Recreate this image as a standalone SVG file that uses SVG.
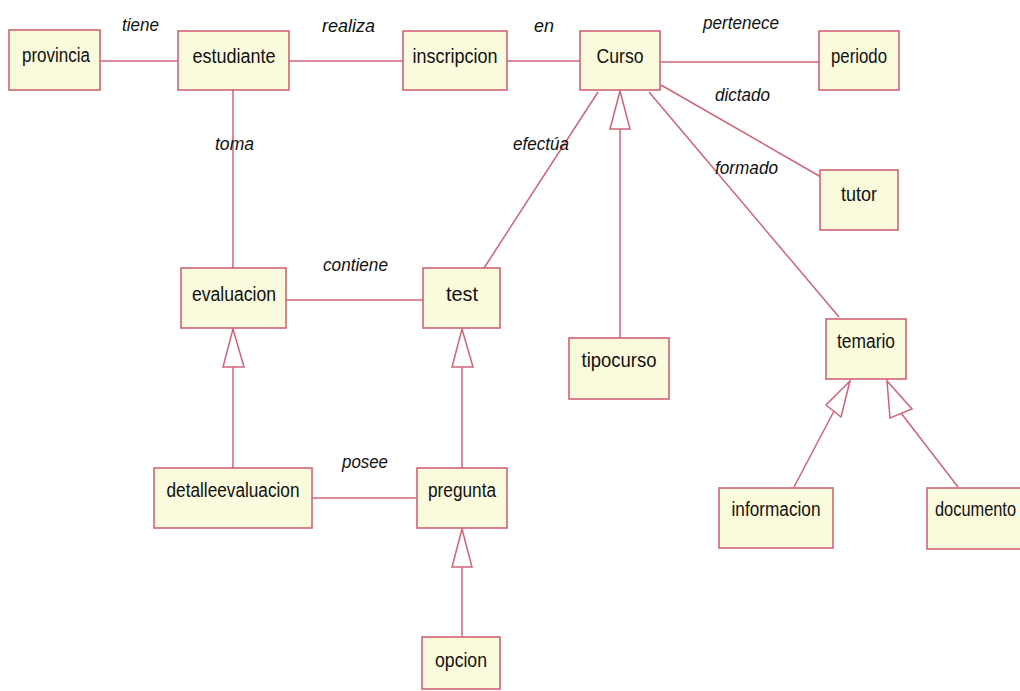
<svg xmlns="http://www.w3.org/2000/svg" width="1020" height="691" viewBox="0 0 1020 691">
  <style>
    .box { fill: #fafadc; stroke: #cf6478; stroke-width: 1.6; }
    .name { font-family: "Liberation Sans", Arial, sans-serif; font-size: 20px; fill: #111; text-anchor: middle; }
    .role { font-family: "Liberation Sans", Arial, sans-serif; font-size: 19px; font-style: italic; fill: #111; }
    .link { stroke: #cf6478; stroke-width: 1.5; fill: none; }
    .gen { stroke: #cf6478; stroke-width: 1.5; fill: #ffffff; }
  </style>
  <rect width="1020" height="691" fill="#ffffff"/>

  <!-- associations and generalizations -->
  <g id="connectors">
    <line class="link" x1="100" y1="61" x2="178" y2="61"/>
    <line class="link" x1="289" y1="61" x2="403" y2="61"/>
    <line class="link" x1="507" y1="61" x2="580" y2="61"/>
    <line class="link" x1="660" y1="62" x2="819" y2="62"/>
    <line class="link" x1="661" y1="85" x2="821" y2="177"/>
    <line class="link" x1="649" y1="92" x2="839" y2="317"/>
    <line class="link" x1="598" y1="92" x2="484" y2="268"/>
    <line class="link" x1="233" y1="90" x2="233" y2="268"/>
    <line class="link" x1="286" y1="300" x2="423" y2="300"/>
    <line class="link" x1="312" y1="498" x2="417" y2="498"/>

    <!-- tipocurso is a Curso -->
    <line class="link" x1="620" y1="129" x2="620" y2="338"/>
    <polygon class="gen" points="620,91 610,129 630,129"/>
    <!-- detalleevaluacion is an evaluacion -->
    <line class="link" x1="233" y1="367" x2="233" y2="468"/>
    <polygon class="gen" points="233,329 223,367 244,367"/>
    <!-- pregunta is a test -->
    <line class="link" x1="462" y1="367" x2="462" y2="468"/>
    <polygon class="gen" points="462,329 452,367 473,367"/>
    <!-- opcion is a pregunta -->
    <line class="link" x1="462" y1="567" x2="462" y2="637"/>
    <polygon class="gen" points="462,529 452,567 472,567"/>
    <!-- informacion / documento are temario -->
    <line class="link" x1="794" y1="487" x2="834" y2="411"/>
    <polygon class="gen" points="850,381 826,405 841,417"/>
    <line class="link" x1="958" y1="487" x2="901" y2="413"/>
    <polygon class="gen" points="887,381 890,418 912,409"/>
  </g>

  <!-- association role names -->
  <g id="roles">
    <text class="role" x="122" y="31" textLength="37" lengthAdjust="spacingAndGlyphs">tiene</text>
    <text class="role" x="322" y="32" textLength="53" lengthAdjust="spacingAndGlyphs">realiza</text>
    <text class="role" x="534" y="32" textLength="20" lengthAdjust="spacingAndGlyphs">en</text>
    <text class="role" x="703" y="29" textLength="76" lengthAdjust="spacingAndGlyphs">pertenece</text>
    <text class="role" x="715" y="101" textLength="55" lengthAdjust="spacingAndGlyphs">dictado</text>
    <text class="role" x="715" y="174" textLength="63" lengthAdjust="spacingAndGlyphs">formado</text>
    <text class="role" x="215" y="150" textLength="39" lengthAdjust="spacingAndGlyphs">toma</text>
    <text class="role" x="513" y="150" textLength="56" lengthAdjust="spacingAndGlyphs">efectúa</text>
    <text class="role" x="323" y="271" textLength="65" lengthAdjust="spacingAndGlyphs">contiene</text>
    <text class="role" x="342" y="468" textLength="46" lengthAdjust="spacingAndGlyphs">posee</text>
  </g>

  <!-- classes -->
  <g id="provincia"><rect class="box" x="9" y="30" width="91" height="60"/><text class="name" x="56" y="62" textLength="68" lengthAdjust="spacingAndGlyphs">provincia</text></g>
  <g id="estudiante"><rect class="box" x="178" y="31" width="111" height="59"/><text class="name" x="234" y="63" textLength="83" lengthAdjust="spacingAndGlyphs">estudiante</text></g>
  <g id="inscripcion"><rect class="box" x="403" y="31" width="104" height="59"/><text class="name" x="455" y="63" textLength="85" lengthAdjust="spacingAndGlyphs">inscripcion</text></g>
  <g id="Curso"><rect class="box" x="580" y="31" width="80" height="59"/><text class="name" x="620" y="63" textLength="47" lengthAdjust="spacingAndGlyphs">Curso</text></g>
  <g id="periodo"><rect class="box" x="819" y="31" width="80" height="59"/><text class="name" x="859" y="63" textLength="56" lengthAdjust="spacingAndGlyphs">periodo</text></g>
  <g id="tutor"><rect class="box" x="820" y="170" width="78" height="60"/><text class="name" x="859" y="201" textLength="36" lengthAdjust="spacingAndGlyphs">tutor</text></g>
  <g id="evaluacion"><rect class="box" x="181" y="268" width="105" height="60"/><text class="name" x="234" y="301" textLength="84" lengthAdjust="spacingAndGlyphs">evaluacion</text></g>
  <g id="test"><rect class="box" x="423" y="268" width="77" height="60"/><text class="name" x="462" y="301" textLength="32" lengthAdjust="spacingAndGlyphs">test</text></g>
  <g id="tipocurso"><rect class="box" x="569" y="338" width="100" height="61"/><text class="name" x="619" y="367" textLength="75" lengthAdjust="spacingAndGlyphs">tipocurso</text></g>
  <g id="temario"><rect class="box" x="826" y="319" width="80" height="60"/><text class="name" x="866" y="348" textLength="58" lengthAdjust="spacingAndGlyphs">temario</text></g>
  <g id="detalleevaluacion"><rect class="box" x="154" y="468" width="158" height="60"/><text class="name" x="233" y="497" textLength="133" lengthAdjust="spacingAndGlyphs">detalleevaluacion</text></g>
  <g id="pregunta"><rect class="box" x="417" y="468" width="90" height="60"/><text class="name" x="462" y="497" textLength="68" lengthAdjust="spacingAndGlyphs">pregunta</text></g>
  <g id="informacion"><rect class="box" x="719" y="488" width="114" height="60"/><text class="name" x="776" y="516" textLength="89" lengthAdjust="spacingAndGlyphs">informacion</text></g>
  <g id="documento"><rect class="box" x="927" y="488" width="110" height="61"/><text class="name" x="935" y="516" style="text-anchor:start" textLength="81" lengthAdjust="spacingAndGlyphs">documento</text></g>
  <g id="opcion"><rect class="box" x="422" y="637" width="78" height="52"/><text class="name" x="461" y="667" textLength="52" lengthAdjust="spacingAndGlyphs">opcion</text></g>
</svg>
